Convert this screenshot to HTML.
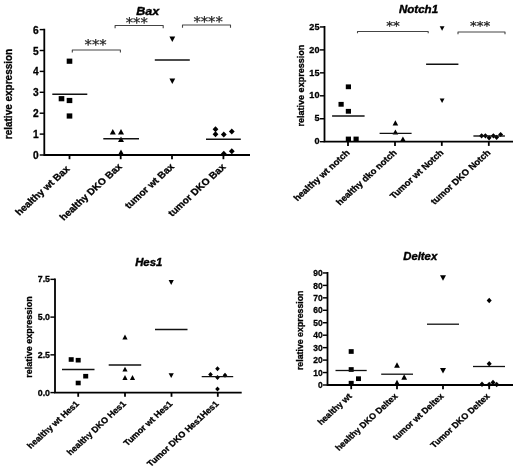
<!DOCTYPE html>
<html><head><meta charset="utf-8"><title>Relative expression: Bax, Notch1, Hes1, Deltex</title>
<style>
html,body{margin:0;padding:0;background:#fff;}
body{width:520px;height:471px;overflow:hidden;}
svg{display:block;filter:blur(0.4px);}
</style></head><body>
<svg width="520" height="471" viewBox="0 0 520 471">
<rect width="520" height="471" fill="#fff"/>
<g stroke="#000" stroke-width="1.8" fill="none" stroke-linecap="butt">
<path d="M44.30,28.70 V155.00 H250.00"/>
<line x1="39.70" y1="155.00" x2="44.30" y2="155.00" stroke-width="1.45"/>
<line x1="39.70" y1="134.10" x2="44.30" y2="134.10" stroke-width="1.45"/>
<line x1="39.70" y1="113.20" x2="44.30" y2="113.20" stroke-width="1.45"/>
<line x1="39.70" y1="92.30" x2="44.30" y2="92.30" stroke-width="1.45"/>
<line x1="39.70" y1="71.40" x2="44.30" y2="71.40" stroke-width="1.45"/>
<line x1="39.70" y1="50.50" x2="44.30" y2="50.50" stroke-width="1.45"/>
<line x1="39.70" y1="29.60" x2="44.30" y2="29.60" stroke-width="1.45"/>
<line x1="69.50" y1="155.00" x2="69.50" y2="159.20"/>
<line x1="120.70" y1="155.00" x2="120.70" y2="159.20"/>
<line x1="172.00" y1="155.00" x2="172.00" y2="159.20"/>
<line x1="223.40" y1="155.00" x2="223.40" y2="159.20"/>
</g>
<g font-family='"Liberation Sans", Arial, sans-serif' font-weight="bold" font-size="10.4" text-anchor="end" fill="#000" stroke="#000" stroke-width="0.3">
<text transform="translate(38.70,159.04) scale(0.98,1)">0</text>
<text transform="translate(38.70,138.14) scale(0.98,1)">1</text>
<text transform="translate(38.70,117.24) scale(0.98,1)">2</text>
<text transform="translate(38.70,96.34) scale(0.98,1)">3</text>
<text transform="translate(38.70,75.44) scale(0.98,1)">4</text>
<text transform="translate(38.70,54.54) scale(0.98,1)">5</text>
<text transform="translate(38.70,33.64) scale(0.98,1)">6</text>
</g>
<text transform="translate(12.00,94.00) scale(1.09,1) rotate(-90)" font-family='"Liberation Sans", Arial, sans-serif' font-weight="bold" font-size="10" text-anchor="middle" fill="#000" stroke="#000" stroke-width="0.3">relative expression</text>
<text transform="translate(147.70,14.80) scale(1.09,1)" font-family='"Liberation Sans", Arial, sans-serif' font-weight="bold" font-style="italic" font-size="11.5" text-anchor="middle" fill="#000" stroke="#000" stroke-width="0.4" >Bax</text>
<text transform="translate(70.30,169.50) scale(1.09,1) rotate(-45)" font-family='"Liberation Sans", Arial, sans-serif' font-weight="bold" font-size="9.4" text-anchor="end" fill="#000" stroke="#000" stroke-width="0.3">healthy wt Bax</text>
<text transform="translate(122.50,167.20) scale(1.09,1) rotate(-45)" font-family='"Liberation Sans", Arial, sans-serif' font-weight="bold" font-size="9.4" text-anchor="end" fill="#000" stroke="#000" stroke-width="0.3">healthy DKO Bax</text>
<text transform="translate(174.80,167.20) scale(1.09,1) rotate(-45)" font-family='"Liberation Sans", Arial, sans-serif' font-weight="bold" font-size="9.4" text-anchor="end" fill="#000" stroke="#000" stroke-width="0.3">tumor wt Bax</text>
<text transform="translate(226.20,167.50) scale(1.09,1) rotate(-45)" font-family='"Liberation Sans", Arial, sans-serif' font-weight="bold" font-size="9.4" text-anchor="end" fill="#000" stroke="#000" stroke-width="0.3">tumor DKO Bax</text>
<g fill="#000">
<rect x="66.70" y="58.60" width="5.6" height="5.2"/>
<rect x="58.70" y="96.10" width="5.6" height="5.2"/>
<rect x="66.70" y="97.90" width="5.6" height="5.2"/>
<rect x="66.70" y="113.40" width="5.6" height="5.2"/>
<polygon points="109.80,134.50 115.80,134.50 112.80,128.90"/>
<polygon points="118.00,134.50 124.00,134.50 121.00,128.90"/>
<polygon points="118.00,142.00 124.00,142.00 121.00,136.40"/>
<polygon points="118.00,155.00 124.00,155.00 121.00,149.40"/>
<polygon points="169.40,36.50 175.20,36.50 172.30,41.90"/>
<polygon points="169.40,78.50 175.20,78.50 172.30,83.90"/>
<polygon points="212.60,129.20 215.50,126.20 218.40,129.20 215.50,132.20"/>
<polygon points="212.60,134.20 215.50,131.20 218.40,134.20 215.50,137.20"/>
<polygon points="220.90,134.50 223.80,131.50 226.70,134.50 223.80,137.50"/>
<polygon points="228.90,131.50 231.80,128.50 234.70,131.50 231.80,134.50"/>
<polygon points="228.90,151.20 231.80,148.20 234.70,151.20 231.80,154.20"/>
<polygon points="220.90,153.70 223.80,150.70 226.70,153.70 223.80,156.70"/>
</g>
<line x1="52.30" y1="94.20" x2="87.30" y2="94.20" stroke="#111" stroke-width="1.6"/>
<line x1="103.30" y1="138.70" x2="139.00" y2="138.70" stroke="#111" stroke-width="1.6"/>
<line x1="154.80" y1="60.00" x2="189.80" y2="60.00" stroke="#111" stroke-width="1.6"/>
<line x1="206.00" y1="139.20" x2="240.80" y2="139.20" stroke="#111" stroke-width="1.6"/>
<path d="M72.30,52.60 V50.00 H120.40 V52.60" fill="none" stroke="#444" stroke-width="1.1" stroke-linejoin="round"/>
<text transform="translate(95.60,49.34) scale(1.09,1)" font-family="DejaVu Sans, sans-serif" font-size="13.5" text-anchor="middle" fill="#222" stroke="#222" stroke-width="0.25">***</text>
<path d="M115.10,28.30 V25.50 H163.20 V28.30" fill="none" stroke="#444" stroke-width="1.1" stroke-linejoin="round"/>
<text transform="translate(136.70,26.84) scale(1.09,1)" font-family="DejaVu Sans, sans-serif" font-size="13.5" text-anchor="middle" fill="#222" stroke="#222" stroke-width="0.25">***</text>
<path d="M182.50,27.80 V25.00 H230.50 V27.80" fill="none" stroke="#444" stroke-width="1.1" stroke-linejoin="round"/>
<text transform="translate(208.10,25.74) scale(1.09,1)" font-family="DejaVu Sans, sans-serif" font-size="13.5" text-anchor="middle" fill="#222" stroke="#222" stroke-width="0.25">****</text>
<g stroke="#000" stroke-width="1.8" fill="none" stroke-linecap="butt">
<path d="M324.50,26.00 V141.70 H513.00"/>
<line x1="319.90" y1="141.70" x2="324.50" y2="141.70" stroke-width="1.45"/>
<line x1="319.90" y1="118.75" x2="324.50" y2="118.75" stroke-width="1.45"/>
<line x1="319.90" y1="95.80" x2="324.50" y2="95.80" stroke-width="1.45"/>
<line x1="319.90" y1="72.85" x2="324.50" y2="72.85" stroke-width="1.45"/>
<line x1="319.90" y1="49.90" x2="324.50" y2="49.90" stroke-width="1.45"/>
<line x1="319.90" y1="26.95" x2="324.50" y2="26.95" stroke-width="1.45"/>
<line x1="348.00" y1="141.70" x2="348.00" y2="145.90"/>
<line x1="395.00" y1="141.70" x2="395.00" y2="145.90"/>
<line x1="441.80" y1="141.70" x2="441.80" y2="145.90"/>
<line x1="488.80" y1="141.70" x2="488.80" y2="145.90"/>
</g>
<g font-family='"Liberation Sans", Arial, sans-serif' font-weight="bold" font-size="9.6" text-anchor="end" fill="#000" stroke="#000" stroke-width="0.3">
<text transform="translate(319.50,144.36) scale(0.95,1)">0</text>
<text transform="translate(319.50,121.41) scale(0.95,1)">5</text>
<text transform="translate(319.50,98.46) scale(0.95,1)">10</text>
<text transform="translate(319.50,75.51) scale(0.95,1)">15</text>
<text transform="translate(319.50,52.56) scale(0.95,1)">20</text>
<text transform="translate(319.50,29.61) scale(0.95,1)">25</text>
</g>
<text transform="translate(304.00,85.60) scale(1.09,1) rotate(-90)" font-family='"Liberation Sans", Arial, sans-serif' font-weight="bold" font-size="9.05" text-anchor="middle" fill="#000" stroke="#000" stroke-width="0.3">relative expression</text>
<text transform="translate(418.50,13.00) scale(1.09,1)" font-family='"Liberation Sans", Arial, sans-serif' font-weight="bold" font-style="italic" font-size="10.6" text-anchor="middle" fill="#000" stroke="#000" stroke-width="0.4" >Notch1</text>
<text transform="translate(350.30,153.20) scale(1.09,1) rotate(-45)" font-family='"Liberation Sans", Arial, sans-serif' font-weight="bold" font-size="8.7" text-anchor="end" fill="#000" stroke="#000" stroke-width="0.3">healthy wt notch</text>
<text transform="translate(397.30,153.20) scale(1.09,1) rotate(-45)" font-family='"Liberation Sans", Arial, sans-serif' font-weight="bold" font-size="8.7" text-anchor="end" fill="#000" stroke="#000" stroke-width="0.3">healthy dko notch</text>
<text transform="translate(444.10,153.20) scale(1.09,1) rotate(-45)" font-family='"Liberation Sans", Arial, sans-serif' font-weight="bold" font-size="8.7" text-anchor="end" fill="#000" stroke="#000" stroke-width="0.3">Tumor wt Notch</text>
<text transform="translate(491.10,153.20) scale(1.09,1) rotate(-45)" font-family='"Liberation Sans", Arial, sans-serif' font-weight="bold" font-size="8.7" text-anchor="end" fill="#000" stroke="#000" stroke-width="0.3">tumor DKO Notch</text>
<g fill="#000">
<rect x="345.80" y="84.40" width="5.2" height="4.8"/>
<rect x="338.50" y="101.90" width="5.2" height="4.8"/>
<rect x="345.80" y="108.90" width="5.2" height="4.8"/>
<rect x="345.80" y="136.60" width="5.2" height="4.8"/>
<rect x="353.50" y="136.60" width="5.2" height="4.8"/>
<polygon points="392.60,125.40 398.20,125.40 395.40,120.20"/>
<polygon points="392.60,134.60 398.20,134.60 395.40,129.40"/>
<polygon points="400.10,141.60 405.70,141.60 402.90,136.40"/>
<polygon points="439.70,26.20 444.50,26.20 442.10,30.80"/>
<polygon points="439.70,98.50 444.50,98.50 442.10,103.10"/>
<polygon points="479.10,135.80 481.60,133.20 484.10,135.80 481.60,138.40"/>
<polygon points="482.90,135.80 485.40,133.20 487.90,135.80 485.40,138.40"/>
<polygon points="486.60,137.80 489.10,135.20 491.60,137.80 489.10,140.40"/>
<polygon points="490.90,135.80 493.40,133.20 495.90,135.80 493.40,138.40"/>
<polygon points="494.10,137.30 496.60,134.70 499.10,137.30 496.60,139.90"/>
<polygon points="498.10,134.50 500.60,131.90 503.10,134.50 500.60,137.10"/>
</g>
<line x1="332.10" y1="116.00" x2="364.60" y2="116.00" stroke="#111" stroke-width="1.4"/>
<line x1="379.60" y1="133.40" x2="411.60" y2="133.40" stroke="#111" stroke-width="1.4"/>
<line x1="426.10" y1="64.30" x2="458.40" y2="64.30" stroke="#111" stroke-width="1.4"/>
<line x1="473.40" y1="136.00" x2="504.90" y2="136.00" stroke="#111" stroke-width="1.4"/>
<path d="M357.50,33.30 V31.50 H428.20 V33.30" fill="none" stroke="#444" stroke-width="1.1" stroke-linejoin="round"/>
<text transform="translate(393.00,29.73) scale(1.09,1)" font-family="DejaVu Sans, sans-serif" font-size="12.5" text-anchor="middle" fill="#222" stroke="#222" stroke-width="0.25">**</text>
<path d="M458.00,34.20 V32.00 H505.00 V34.20" fill="none" stroke="#444" stroke-width="1.1" stroke-linejoin="round"/>
<text transform="translate(480.20,29.73) scale(1.09,1)" font-family="DejaVu Sans, sans-serif" font-size="12.5" text-anchor="middle" fill="#222" stroke="#222" stroke-width="0.25">***</text>
<g stroke="#000" stroke-width="1.8" fill="none" stroke-linecap="butt">
<path d="M55.00,278.60 V392.60 H241.70"/>
<line x1="50.40" y1="392.60" x2="55.00" y2="392.60" stroke-width="1.45"/>
<line x1="50.40" y1="354.85" x2="55.00" y2="354.85" stroke-width="1.45"/>
<line x1="50.40" y1="317.10" x2="55.00" y2="317.10" stroke-width="1.45"/>
<line x1="50.40" y1="279.35" x2="55.00" y2="279.35" stroke-width="1.45"/>
<line x1="78.20" y1="392.60" x2="78.20" y2="396.80"/>
<line x1="125.00" y1="392.60" x2="125.00" y2="396.80"/>
<line x1="171.50" y1="392.60" x2="171.50" y2="396.80"/>
<line x1="217.80" y1="392.60" x2="217.80" y2="396.80"/>
</g>
<g font-family='"Liberation Sans", Arial, sans-serif' font-weight="bold" font-size="9.3" text-anchor="end" fill="#000" stroke="#000" stroke-width="0.3">
<text transform="translate(50.00,395.55) scale(0.95,1)">0.0</text>
<text transform="translate(50.00,357.80) scale(0.95,1)">2.5</text>
<text transform="translate(50.00,320.05) scale(0.95,1)">5.0</text>
<text transform="translate(50.00,282.30) scale(0.95,1)">7.5</text>
</g>
<text transform="translate(31.70,337.10) scale(1.09,1) rotate(-90)" font-family='"Liberation Sans", Arial, sans-serif' font-weight="bold" font-size="9.0" text-anchor="middle" fill="#000" stroke="#000" stroke-width="0.3">relative expression</text>
<text transform="translate(148.70,265.60) scale(1.09,1)" font-family='"Liberation Sans", Arial, sans-serif' font-weight="bold" font-style="italic" font-size="10.4" text-anchor="middle" fill="#000" stroke="#000" stroke-width="0.4" >Hes1</text>
<text transform="translate(79.70,404.40) scale(1.09,1) rotate(-45)" font-family='"Liberation Sans", Arial, sans-serif' font-weight="bold" font-size="8.4" text-anchor="end" fill="#000" stroke="#000" stroke-width="0.3">healthy wt Hes1</text>
<text transform="translate(126.50,404.40) scale(1.09,1) rotate(-45)" font-family='"Liberation Sans", Arial, sans-serif' font-weight="bold" font-size="8.4" text-anchor="end" fill="#000" stroke="#000" stroke-width="0.3">healthy DKO Hes1</text>
<text transform="translate(173.00,404.40) scale(1.09,1) rotate(-45)" font-family='"Liberation Sans", Arial, sans-serif' font-weight="bold" font-size="8.4" text-anchor="end" fill="#000" stroke="#000" stroke-width="0.3">Tumor wt Hes1</text>
<text transform="translate(219.30,404.40) scale(1.09,1) rotate(-45)" font-family='"Liberation Sans", Arial, sans-serif' font-weight="bold" font-size="8.4" text-anchor="end" fill="#000" stroke="#000" stroke-width="0.3">Tumor DKO Hes1Hes1</text>
<g fill="#000">
<rect x="68.70" y="357.20" width="5.0" height="4.6"/>
<rect x="75.70" y="357.90" width="5.0" height="4.6"/>
<rect x="83.20" y="373.90" width="5.0" height="4.6"/>
<rect x="75.70" y="380.70" width="5.0" height="4.6"/>
<polygon points="122.40,339.40 127.60,339.40 125.00,334.60"/>
<polygon points="122.40,371.60 127.60,371.60 125.00,366.80"/>
<polygon points="122.40,379.90 127.60,379.90 125.00,375.10"/>
<polygon points="129.90,379.90 135.10,379.90 132.50,375.10"/>
<polygon points="168.60,280.10 173.80,280.10 171.20,284.90"/>
<polygon points="168.60,373.30 173.80,373.30 171.20,378.10"/>
<polygon points="215.20,368.70 217.50,366.20 219.80,368.70 217.50,371.20"/>
<polygon points="208.20,374.50 210.50,372.00 212.80,374.50 210.50,377.00"/>
<polygon points="222.70,375.20 225.00,372.70 227.30,375.20 225.00,377.70"/>
<polygon points="215.20,377.50 217.50,375.00 219.80,377.50 217.50,380.00"/>
<polygon points="215.20,389.00 217.50,386.50 219.80,389.00 217.50,391.50"/>
</g>
<line x1="62.00" y1="369.50" x2="94.50" y2="369.50" stroke="#111" stroke-width="1.3"/>
<line x1="108.70" y1="365.00" x2="141.20" y2="365.00" stroke="#111" stroke-width="1.3"/>
<line x1="155.00" y1="329.50" x2="187.50" y2="329.50" stroke="#111" stroke-width="1.3"/>
<line x1="201.70" y1="376.70" x2="233.20" y2="376.70" stroke="#111" stroke-width="1.3"/>
<g stroke="#000" stroke-width="1.8" fill="none" stroke-linecap="butt">
<path d="M327.50,272.10 V385.00 H513.00"/>
<line x1="322.90" y1="385.00" x2="327.50" y2="385.00" stroke-width="1.45"/>
<line x1="322.90" y1="372.55" x2="327.50" y2="372.55" stroke-width="1.45"/>
<line x1="322.90" y1="360.10" x2="327.50" y2="360.10" stroke-width="1.45"/>
<line x1="322.90" y1="347.65" x2="327.50" y2="347.65" stroke-width="1.45"/>
<line x1="322.90" y1="335.20" x2="327.50" y2="335.20" stroke-width="1.45"/>
<line x1="322.90" y1="322.75" x2="327.50" y2="322.75" stroke-width="1.45"/>
<line x1="322.90" y1="310.30" x2="327.50" y2="310.30" stroke-width="1.45"/>
<line x1="322.90" y1="297.85" x2="327.50" y2="297.85" stroke-width="1.45"/>
<line x1="322.90" y1="285.40" x2="327.50" y2="285.40" stroke-width="1.45"/>
<line x1="322.90" y1="272.95" x2="327.50" y2="272.95" stroke-width="1.45"/>
<line x1="351.20" y1="385.00" x2="351.20" y2="389.20"/>
<line x1="397.00" y1="385.00" x2="397.00" y2="389.20"/>
<line x1="443.00" y1="385.00" x2="443.00" y2="389.20"/>
<line x1="489.20" y1="385.00" x2="489.20" y2="389.20"/>
</g>
<g font-family='"Liberation Sans", Arial, sans-serif' font-weight="bold" font-size="9.2" text-anchor="end" fill="#000" stroke="#000" stroke-width="0.3">
<text transform="translate(322.70,388.11) scale(0.92,1)">0</text>
<text transform="translate(322.70,375.66) scale(0.92,1)">10</text>
<text transform="translate(322.70,363.21) scale(0.92,1)">20</text>
<text transform="translate(322.70,350.76) scale(0.92,1)">30</text>
<text transform="translate(322.70,338.31) scale(0.92,1)">40</text>
<text transform="translate(322.70,325.86) scale(0.92,1)">50</text>
<text transform="translate(322.70,313.41) scale(0.92,1)">60</text>
<text transform="translate(322.70,300.96) scale(0.92,1)">70</text>
<text transform="translate(322.70,288.51) scale(0.92,1)">80</text>
<text transform="translate(322.70,276.06) scale(0.92,1)">90</text>
</g>
<text transform="translate(303.00,330.30) scale(1.09,1) rotate(-90)" font-family='"Liberation Sans", Arial, sans-serif' font-weight="bold" font-size="8.8" text-anchor="middle" fill="#000" stroke="#000" stroke-width="0.3">relative expression</text>
<text transform="translate(420.20,259.50) scale(1.09,1)" font-family='"Liberation Sans", Arial, sans-serif' font-weight="bold" font-style="italic" font-size="10.4" text-anchor="middle" fill="#000" stroke="#000" stroke-width="0.4" >Deltex</text>
<text transform="translate(352.40,396.80) scale(1.09,1) rotate(-45)" font-family='"Liberation Sans", Arial, sans-serif' font-weight="bold" font-size="8.3" text-anchor="end" fill="#000" stroke="#000" stroke-width="0.3">healthy wt</text>
<text transform="translate(398.20,396.80) scale(1.09,1) rotate(-45)" font-family='"Liberation Sans", Arial, sans-serif' font-weight="bold" font-size="8.3" text-anchor="end" fill="#000" stroke="#000" stroke-width="0.3">healthy DKO Deltex</text>
<text transform="translate(444.20,396.80) scale(1.09,1) rotate(-45)" font-family='"Liberation Sans", Arial, sans-serif' font-weight="bold" font-size="8.3" text-anchor="end" fill="#000" stroke="#000" stroke-width="0.3">tumor wt Deltex</text>
<text transform="translate(490.40,396.80) scale(1.09,1) rotate(-45)" font-family='"Liberation Sans", Arial, sans-serif' font-weight="bold" font-size="8.3" text-anchor="end" fill="#000" stroke="#000" stroke-width="0.3">Tumor DKO Deltex</text>
<g fill="#000">
<rect x="348.70" y="349.15" width="5.0" height="4.7"/>
<rect x="348.70" y="367.15" width="5.0" height="4.7"/>
<rect x="356.00" y="376.35" width="5.0" height="4.7"/>
<rect x="348.70" y="380.85" width="5.0" height="4.7"/>
<polygon points="394.10,367.70 399.90,367.70 397.00,362.30"/>
<polygon points="401.30,379.70 407.10,379.70 404.20,374.30"/>
<polygon points="394.10,385.20 399.90,385.20 397.00,379.80"/>
<polygon points="440.00,275.30 446.00,275.30 443.00,280.70"/>
<polygon points="440.00,368.00 446.00,368.00 443.00,373.40"/>
<polygon points="486.70,300.50 489.20,297.80 491.70,300.50 489.20,303.20"/>
<polygon points="486.70,363.70 489.20,361.00 491.70,363.70 489.20,366.40"/>
<polygon points="479.50,384.20 482.00,381.50 484.50,384.20 482.00,386.90"/>
<polygon points="486.70,384.50 489.20,381.80 491.70,384.50 489.20,387.20"/>
<polygon points="490.50,382.50 493.00,379.80 495.50,382.50 493.00,385.20"/>
<polygon points="494.20,384.50 496.70,381.80 499.20,384.50 496.70,387.20"/>
</g>
<line x1="335.50" y1="370.50" x2="366.70" y2="370.50" stroke="#111" stroke-width="1.3"/>
<line x1="381.20" y1="374.20" x2="413.00" y2="374.20" stroke="#111" stroke-width="1.3"/>
<line x1="427.00" y1="324.20" x2="459.00" y2="324.20" stroke="#111" stroke-width="1.3"/>
<line x1="473.00" y1="366.50" x2="505.00" y2="366.50" stroke="#111" stroke-width="1.3"/>
</svg>
</body></html>
